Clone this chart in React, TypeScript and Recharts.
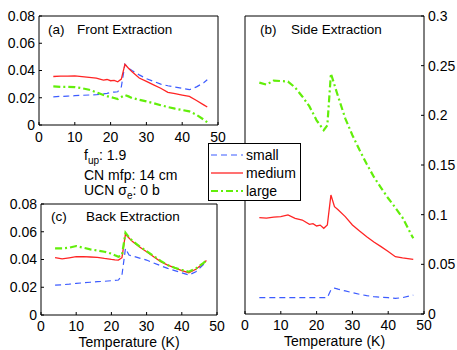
import { Line, LineChart, XAxis, YAxis } from "recharts"

const FONT = '"Liberation Sans", Arial, Helvetica, sans-serif'
const BLUE = "#3d5cff"
const RED = "#ff2424"
const GREEN = "#62ee0a"

// temperatures (K) sampled for every curve
const temps = [4, 6, 8, 10, 12, 14, 16, 18, 19, 20, 21, 22, 23, 24, 25, 26, 28, 30, 32, 34, 36, 38, 40, 42, 44, 46, 47]

// (a) front extraction
const aSmall = [0.0207, 0.021, 0.0212, 0.0215, 0.0218, 0.022, 0.0222, 0.0228, 0.0232, 0.0238, 0.0242, 0.0244, 0.028, 0.0446, 0.0417, 0.04, 0.0368, 0.034, 0.032, 0.03, 0.0288, 0.0278, 0.027, 0.0259, 0.028, 0.031, 0.0332]
const aMedium = [0.0356, 0.0358, 0.0359, 0.036, 0.0355, 0.035, 0.0344, 0.033, 0.0334, 0.0325, 0.0328, 0.0317, 0.0337, 0.0446, 0.0417, 0.039, 0.0345, 0.032, 0.0295, 0.027, 0.024, 0.023, 0.022, 0.021, 0.018, 0.0148, 0.0132]
const aLarge = [0.0283, 0.028, 0.028, 0.0278, 0.027, 0.0259, 0.024, 0.022, 0.0212, 0.0205, 0.0198, 0.019, 0.0205, 0.022, 0.021, 0.0198, 0.0185, 0.0173, 0.016, 0.0145, 0.0132, 0.012, 0.011, 0.01, 0.0075, 0.004, 0.002]

// (b) side extraction
const bSmall = [0.0164, 0.0164, 0.0164, 0.0164, 0.0164, 0.0164, 0.0164, 0.0164, 0.0164, 0.0164, 0.0164, 0.0164, 0.0166, 0.0242, 0.026, 0.025, 0.0232, 0.0215, 0.0198, 0.0185, 0.0174, 0.0168, 0.0164, 0.0157, 0.0165, 0.0182, 0.019]
const bMedium = [0.097, 0.0965, 0.0975, 0.098, 0.0997, 0.0963, 0.0946, 0.0903, 0.091, 0.0886, 0.0895, 0.0863, 0.0896, 0.1198, 0.108, 0.105, 0.098, 0.0896, 0.0835, 0.0778, 0.0725, 0.0678, 0.063, 0.0577, 0.0565, 0.0555, 0.055]
const bLarge = [0.2329, 0.2309, 0.235, 0.2345, 0.234, 0.228, 0.219, 0.209, 0.202, 0.195, 0.19, 0.185, 0.19, 0.242, 0.2305, 0.219, 0.197, 0.18, 0.165, 0.151, 0.138, 0.127, 0.1165, 0.107, 0.097, 0.083, 0.0762]

// (c) back extraction
const cSmall = [0.0216, 0.0218, 0.0222, 0.0228, 0.0232, 0.0236, 0.024, 0.0243, 0.0245, 0.0247, 0.025, 0.0252, 0.0288, 0.048, 0.0432, 0.0425, 0.041, 0.0396, 0.0375, 0.0355, 0.0336, 0.032, 0.0304, 0.0288, 0.0312, 0.036, 0.0384]
const cMedium = [0.0413, 0.0404, 0.0412, 0.042, 0.042, 0.0418, 0.0416, 0.0408, 0.0405, 0.0401, 0.0398, 0.0396, 0.0413, 0.0584, 0.0555, 0.0529, 0.049, 0.0456, 0.042, 0.0385, 0.036, 0.034, 0.032, 0.0305, 0.033, 0.037, 0.0392]
const cLarge = [0.048, 0.048, 0.0485, 0.0497, 0.0485, 0.0473, 0.0465, 0.0456, 0.045, 0.0442, 0.043, 0.042, 0.043, 0.0593, 0.056, 0.0533, 0.0495, 0.046, 0.0425, 0.039, 0.036, 0.034, 0.0325, 0.0312, 0.0335, 0.0372, 0.0392]

const xTicks = [0, 10, 20, 30, 40, 50]
const smallTicks = [0, 0.02, 0.04, 0.06, 0.08]
const sideTicks = [0, 0.05, 0.1, 0.15, 0.2, 0.25, 0.3]

const rows = (s: number[], m: number[], l: number[]) =>
  temps.map((t, i) => ({ T: t, small: s[i], medium: m[i], large: l[i] }))

const dataA = rows(aSmall, aMedium, aLarge)
const dataB = rows(bSmall, bMedium, bLarge)
const dataC = rows(cSmall, cMedium, cLarge)

const tickStyle = { fontSize: 14, fill: "#000", fontFamily: FONT }

function series() {
  return [
    <Line key="s" xAxisId="b" yAxisId="v" dataKey="small" stroke={BLUE} strokeWidth={1.2} strokeDasharray="6 4" dot={false} isAnimationActive={false} />,
    <Line key="m" xAxisId="b" yAxisId="v" dataKey="medium" stroke={RED} strokeWidth={1.3} dot={false} isAnimationActive={false} />,
    <Line key="l" xAxisId="b" yAxisId="v" dataKey="large" stroke={GREEN} strokeWidth={2.2} strokeDasharray="7 3 2 3" dot={false} isAnimationActive={false} />,
  ]
}

export default function App() {
  return (
    <div style={{ position: "absolute", left: 0, top: 0, width: 457, height: 350, background: "#fff", fontFamily: FONT }}>
      {/* (a) */}
      <div style={{ position: "absolute", left: 0, top: 0 }}>
        <LineChart width={230} height={150} data={dataA} margin={{ top: 15, right: 11, left: 0, bottom: 0 }}>
          <XAxis xAxisId="b" dataKey="T" type="number" domain={[0, 50]} ticks={xTicks} interval={0} height={25} tickSize={-3} tickMargin={10} stroke="#000" tick={tickStyle} />
          <XAxis xAxisId="t" orientation="top" type="number" domain={[0, 50]} ticks={xTicks} interval={0} height={1} tickSize={-3} tick={false} stroke="#000" />
          <YAxis yAxisId="v" type="number" domain={[0, 0.08]} ticks={smallTicks} interval={0} width={39} tickSize={-3} tickMargin={7} stroke="#000" tick={tickStyle} />
          <YAxis yAxisId="r" orientation="right" type="number" domain={[0, 0.08]} ticks={smallTicks} interval={0} width={1} tickSize={-3} tick={false} stroke="#000" />
          {series()}
        </LineChart>
      </div>

      {/* (b) */}
      <div style={{ position: "absolute", left: 230, top: 0 }}>
        <LineChart width={227} height={350} data={dataB} margin={{ top: 15, right: 0, left: 14, bottom: 0 }}>
          <XAxis xAxisId="b" dataKey="T" type="number" domain={[0, 50]} ticks={xTicks} interval={0} height={36} tickSize={-3} tickMargin={9} stroke="#000" tick={tickStyle}
            label={{ value: "Temperature (K)", position: "insideBottom", offset: 4, fontSize: 14, fill: "#000", fontFamily: FONT }} />
          <XAxis xAxisId="t" orientation="top" type="number" domain={[0, 50]} ticks={xTicks} interval={0} height={1} tickSize={-3} tick={false} stroke="#000" />
          <YAxis yAxisId="l" type="number" domain={[0, 0.3]} ticks={sideTicks} interval={0} width={1} tickSize={-3} tick={false} stroke="#000" />
          <YAxis yAxisId="v" orientation="right" type="number" domain={[0, 0.3]} ticks={sideTicks} interval={0} width={33} tickSize={-3} tickMargin={7} stroke="#000" tick={tickStyle} />
          {series()}
        </LineChart>
      </div>

      {/* (c) */}
      <div style={{ position: "absolute", left: 0, top: 180 }}>
        <LineChart width={230} height={170} data={dataC} margin={{ top: 23, right: 12, left: 0, bottom: 0 }}>
          <XAxis xAxisId="b" dataKey="T" type="number" domain={[0, 50]} ticks={xTicks} interval={0} height={35} tickSize={-3} tickMargin={9} stroke="#000" tick={tickStyle}
            label={{ value: "Temperature (K)", position: "insideBottom", offset: 3, fontSize: 14, fill: "#000", fontFamily: FONT }} />
          <XAxis xAxisId="t" orientation="top" type="number" domain={[0, 50]} ticks={xTicks} interval={0} height={1} tickSize={-3} tick={false} stroke="#000" />
          <YAxis yAxisId="v" type="number" domain={[0, 0.08]} ticks={smallTicks} interval={0} width={41} tickSize={-3} tickMargin={7} stroke="#000" tick={tickStyle} />
          <YAxis yAxisId="r" orientation="right" type="number" domain={[0, 0.08]} ticks={smallTicks} interval={0} width={1} tickSize={-3} tick={false} stroke="#000" />
          {series()}
        </LineChart>
      </div>

      {/* titles, notes and legend */}
      <svg width={457} height={350} style={{ position: "absolute", left: 0, top: 0, pointerEvents: "none" }} fontFamily={FONT} fill="#000">
        <text x={48} y={34} fontSize={13.5}>(a)</text>
        <text x={77} y={34} fontSize={13.5}>Front Extraction</text>
        <text x={260} y={34} fontSize={13.5}>(b)</text>
        <text x={291} y={34} fontSize={13.5}>Side Extraction</text>
        <text x={51} y={221} fontSize={13.5}>(c)</text>
        <text x={86} y={221} fontSize={13.5}>Back Extraction</text>

        <text x={84} y={160} fontSize={14}>f<tspan fontSize={10} dy={4}>up</tspan><tspan dy={-4}>: 1.9</tspan></text>
        <text x={84} y={180} fontSize={14}>CN mfp: 14 cm</text>
        <text x={84} y={195} fontSize={14}>UCN σ<tspan fontSize={10} dy={4}>e</tspan><tspan dy={-4}>: 0 b</tspan></text>

        <rect x={208.5} y={143.5} width={92} height={57} fill="#fff" stroke="#000" strokeWidth={1} />
        <line x1={211} x2={243} y1={155} y2={155} stroke={BLUE} strokeWidth={1.2} strokeDasharray="6 4" />
        <line x1={211} x2={243} y1={173} y2={173} stroke={RED} strokeWidth={1.3} />
        <line x1={211} x2={243} y1={191} y2={191} stroke={GREEN} strokeWidth={2} strokeDasharray="7 3 2 3" />
        <text x={246} y={160} fontSize={14}>small</text>
        <text x={246} y={178} fontSize={14}>medium</text>
        <text x={246} y={196} fontSize={14}>large</text>
      </svg>
    </div>
  )
}
